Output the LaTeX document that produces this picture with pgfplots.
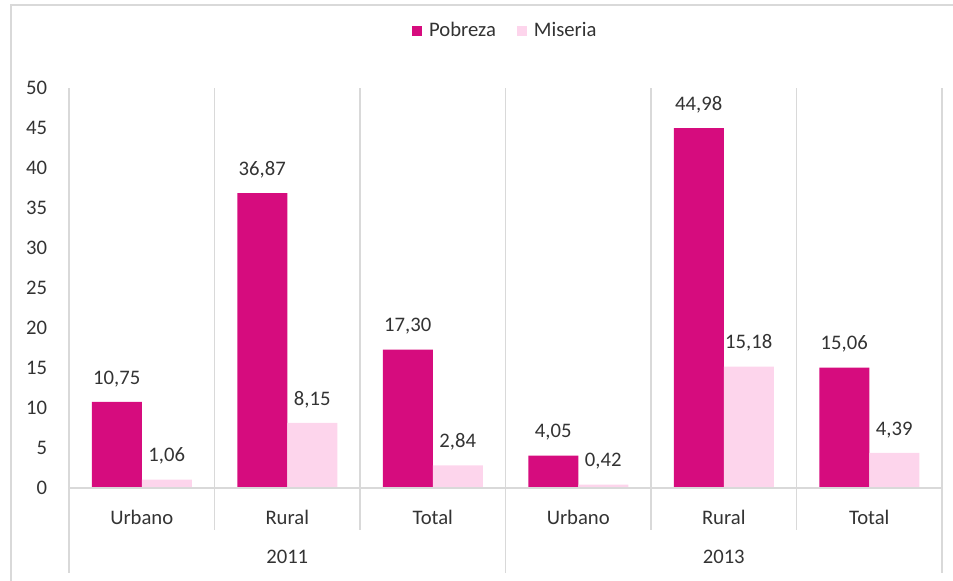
\documentclass[border=0pt]{standalone}
\usepackage{pgfplots}
\pgfplotsset{compat=1.18}
\usepackage{fontspec}
\setmainfont{Carlito}
\definecolor{pobreza}{RGB}{214,12,126}
\definecolor{miseria}{RGB}{253,213,236}
\definecolor{sep}{RGB}{217,217,217}
\begin{document}
\fontsize{15.5}{18}\selectfont
\begin{tikzpicture}
% 1px = 0.75pt, axis box lower left at (0,0)
\path[use as bounding box] (-51.75pt,-69.75pt) rectangle (663pt,366pt);
\draw[sep, line width=1pt] (-43.5pt,-70pt) -- (-43.5pt,362.25pt) -- (664pt,362.25pt);
\begin{axis}[
    at={(0,0)}, anchor=south west,
    scale only axis,
    width=654.75pt, height=300pt,
    xmin=-0.5, xmax=5.5,
    ymin=0, ymax=50,
    ytick={0,5,...,50},
    xtick=\empty,
    major tick length=0pt,
    axis line style={draw=none},
    yticklabel style={xshift=-11pt},
    /pgf/number format/assume math mode=true,
    ybar=0pt, bar width=37.5pt,
    clip=false,
    nodes near coords,
    nodes near coords style={yshift=6pt, text=black!80,
      /pgf/number format/.cd, fixed, fixed zerofill, precision=2, use comma, assume math mode=true},
    legend style={at={(0.5,1)}, yshift=42.5pt, anchor=center, draw=none,
      legend columns=2, /tikz/every even column/.append style={column sep=13.5pt},
      font=\fontsize{15.5}{18}\selectfont, text=black!80},
    legend image code/.code={\fill[#1] (0pt,-3.75pt) rectangle (7.5pt,3.75pt); \path (11pt,0pt);},
    tick label style={text=black!80},
]
\addplot[fill=pobreza, draw=none] coordinates {(0,10.75) (1,36.87) (2,17.30) (3,4.05) (4,44.98) (5,15.06)};
\addplot[fill=miseria, draw=none] coordinates {(0,1.06) (1,8.15) (2,2.84) (3,0.42) (4,15.18) (5,4.39)};
\legend{Pobreza, Miseria}
% separators
\draw[sep, line width=1pt] (axis cs:-0.5,0) -- (axis cs:5.5,0);
\draw[sep, line width=1pt] (axis cs:-0.5,50) -- ([yshift=-63.75pt]axis cs:-0.5,0);
\draw[sep, line width=1pt] (axis cs:2.5,50) -- ([yshift=-63.75pt]axis cs:2.5,0);
\draw[sep, line width=1pt] (axis cs:5.5,50) -- ([yshift=-63.75pt]axis cs:5.5,0);
\draw[sep, line width=1pt] (axis cs:0.5,50) -- ([yshift=-31.5pt]axis cs:0.5,0);
\draw[sep, line width=1pt] (axis cs:1.5,50) -- ([yshift=-31.5pt]axis cs:1.5,0);
\draw[sep, line width=1pt] (axis cs:3.5,50) -- ([yshift=-31.5pt]axis cs:3.5,0);
\draw[sep, line width=1pt] (axis cs:4.5,50) -- ([yshift=-31.5pt]axis cs:4.5,0);
% category labels
\node[text=black!80] at (axis cs:0,0) [yshift=-21.75pt] {Urbano};
\node[text=black!80] at (axis cs:1,0) [yshift=-21.75pt] {Rural};
\node[text=black!80] at (axis cs:2,0) [yshift=-21.75pt] {Total};
\node[text=black!80] at (axis cs:3,0) [yshift=-21.75pt] {Urbano};
\node[text=black!80] at (axis cs:4,0) [yshift=-21.75pt] {Rural};
\node[text=black!80] at (axis cs:5,0) [yshift=-21.75pt] {Total};
\node[text=black!80] at (axis cs:1,0) [yshift=-51.75pt] {2011};
\node[text=black!80] at (axis cs:4,0) [yshift=-51.75pt] {2013};
\end{axis}
\end{tikzpicture}
\end{document}
